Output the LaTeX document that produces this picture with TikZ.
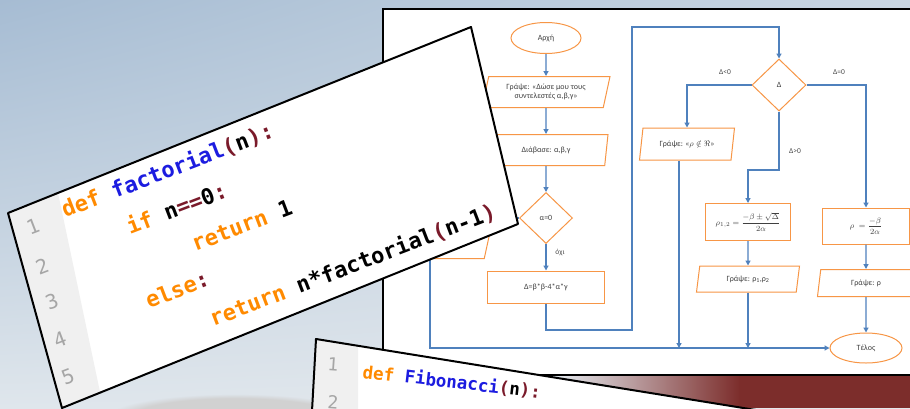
\documentclass[tikz,border=0pt]{standalone}
\usepackage{fontspec}
\setmainfont{Carlito}
\newfontfamily\codefont{DejaVu Sans Mono}
\usetikzlibrary{shapes.geometric,arrows.meta,fadings,shadings}
\definecolor{fcor}{HTML}{F79646}
\definecolor{fcbl}{HTML}{4F81BD}
\definecolor{kwc}{HTML}{FF8A00}
\definecolor{fnc}{HTML}{1C1CE0}
\definecolor{prc}{HTML}{7A1A2A}
\definecolor{lnc}{HTML}{A6A6A6}
\definecolor{lnbg}{HTML}{F0F0F0}
\definecolor{bgA}{HTML}{A6BCD3}
\definecolor{bgB}{HTML}{C9D6E2}
\definecolor{bgC}{HTML}{DFE6EC}
\definecolor{bgD}{HTML}{E2E7EC}
\definecolor{redc}{HTML}{7C2D2B}
\newcommand\ckw[1]{\textcolor{kwc}{#1}}
\newcommand\cfn[1]{\textcolor{fnc}{#1}}
\newcommand\cpr[1]{\textcolor{prc}{#1}}
\begin{document}
\begin{tikzpicture}[x=1pt,y=-1pt,
  fcnode/.style={draw=fcor, line width=1pt, font=\fontsize{8}{9.5}\selectfont, align=center, inner sep=1pt, text=black!75},
  term/.style={fcnode, ellipse},
  io/.style={fcnode, trapezium, trapezium left angle=70, trapezium right angle=110, trapezium stretches body},
  proc/.style={fcnode, rectangle},
  dec/.style={fcnode, diamond},
  flow/.style={draw=fcbl, line width=1.3pt},
  arr/.style={flow, -{Triangle[width=5pt,length=5pt]}},
  lbl/.style={font=\fontsize{7.5}{8}\selectfont, text=black!70, inner sep=0pt},
  code/.style={font=\codefont\fontsize{22}{22}\selectfont\bfseries, anchor=base west, inner sep=0pt, rotate=21},
  lnum/.style={font=\codefont\fontsize{20}{20}\selectfont, text=lnc, inner sep=0pt, rotate=21},
  fcode/.style={font=\codefont\fontsize{17.5}{18}\selectfont\bfseries, anchor=base west, inner sep=0pt, rotate=-6.5},
  flnum/.style={font=\codefont\fontsize{18}{18}\selectfont, text=lnc, inner sep=0pt, rotate=-4},
  panel/.style={line width=2pt, line join=round}
]
\useasboundingbox (0,0) rectangle (910,408);
% background
\shade[upper left=bgA, upper right=bgB, lower left=bgC, lower right=bgD] (0,0) rectangle (910,408);
\fill[black!18, path fading=circle with fuzzy edge 20 percent] (235,416) ellipse [x radius=125pt, y radius=22pt];
\shade[left color=bgD, right color=redc] (560,376) rectangle (740,408);
\fill[redc] (739,376) rectangle (912,408);
% frame
\draw[line width=2.5pt, fill=white] (383,9) rectangle (922,375);

% flowchart
\node[term, minimum width=70pt, minimum height=31pt] (start) at (546,38) {Αρχή};
\node[io, minimum width=128pt, minimum height=31pt] (p1) at (546,92) {Γράψε: «Δώσε μου τους\\συντελεστές α,β,γ»};
\node[io, minimum width=124pt, minimum height=31pt] (p2) at (546,150) {Διάβασε: α,β,γ};
\node[dec, minimum width=53pt, minimum height=51pt] (d1) at (546,218) {α=0};
\node[proc, minimum width=117pt, minimum height=32pt] (r1) at (546,287) {Δ=β*β-4*α*γ};
\node[io, minimum width=122pt, minimum height=31pt] (pno) at (430,243) {Γράψε: «Η εξίσωση δεν\\είναι 2ου βαθμού»};
\node[dec, minimum width=54pt, minimum height=52pt] (d2) at (779,85) {Δ};
\node[io, minimum width=95pt, minimum height=32pt] (p3) at (687,144) {Γράψε: «$\rho\notin\Re$»};
\node[proc, minimum width=85pt, minimum height=37pt] (r2) at (748,222) {$\displaystyle\rho_{1,2}=\frac{-\beta\pm\sqrt{\Delta}}{2\alpha}$};
\node[io, minimum width=103pt, minimum height=26pt] (p4) at (748,279) {Γράψε: ρ\textsubscript{1},ρ\textsubscript{2}};
\node[proc, minimum width=87pt, minimum height=36pt] (r3) at (866,226) {$\displaystyle\rho\;=\frac{-\beta}{2\alpha}$};
\node[io, minimum width=97pt, minimum height=27pt] (p5) at (866,283) {Γράψε: ρ};
\node[term, minimum width=72pt, minimum height=30pt] (end) at (866,348) {Τέλος};

\node[lbl] (lno) at (560,252) {όχι};
\node[lbl] (llt) at (725,72) {Δ<0};
\node[lbl] (leq) at (839,72) {Δ=0};
\node[lbl] (lgt) at (795,151) {Δ>0};

\coordinate (la) at (632,330);
\coordinate (lb) at (632,27);
\coordinate (k1) at (779,170);
\coordinate (bus) at (430,348);
\coordinate (p3o) at ([xshift=-8pt]p3.south);

\draw[arr] (start.south) -- (p1.north);
\draw[arr] (p1.south) -- (p2.north);
\draw[arr] (p2.south) -- (d1.north);
\draw[arr] (d1.south) -- (r1.north);
\draw[arr] (d1.west) -| (pno.north);
\draw[arr] (pno.south) |- (end.west);
\draw[arr] (r1.south) |- (la) -- (lb) -| (d2.north);
\draw[arr] (d2.west) -| (p3.north);
\draw[arr] (p3o) -- (p3o |- bus);
\draw[arr] (d2.south) -- (d2.south |- k1) -| (r2.north);
\draw[arr] (r2.south) -- (p4.north);
\draw[arr] (p4.south) -- (p4.south |- bus);
\draw[arr] (d2.east) -| (r3.north);
\draw[arr] (r3.south) -- (p5.north);
\draw[arr] (p5.south) -- (end.north);

% factorial panel
\fill[white] (8,213) -- (471,27) -- (518,224) -- (62,408) -- cycle;
\fill[lnbg] (8,213) -- (58,193) -- (100,392) -- (62,408) -- cycle;
\draw[panel] (8,213) -- (471,27) -- (518,224) -- (62,408) -- cycle;
\node[lnum] (n1) at (33,227) {1};
\node[lnum] (n2) at (42,266) {2};
\node[lnum] (n3) at (52,302) {3};
\node[lnum] (n4) at (60,340) {4};
\node[lnum] (n5) at (68,377) {5};
\node[code] (c1) at (65,218) {\ckw{def} \cfn{factorial}\cpr{(}n\cpr{):}};
\node[code] (c2) at (130,235) {\ckw{if} n\cpr{==}0\cpr{:}};
\node[code] (c3) at (195,252) {\ckw{return} 1};
\node[code] (c4) at (149,309) {\ckw{else}\cpr{:}};
\node[code] (c5) at (213,327) {\ckw{return} n*factorial\cpr{(}n-1\cpr{)}};

% fibonacci panel
\fill[white] (316,339) -- (762,411) -- (312,411) -- cycle;
\fill[lnbg] (316,339) -- (358,345.8) -- (358,411) -- (312,411) -- cycle;
\draw[panel] (312,411) -- (316,339) -- (762,411);
\node[flnum] (f1) at (333,364) {1};
\node[flnum] (f2) at (333,402) {2};
\node[fcode] (fc1) at (362,378) {\ckw{def} \cfn{Fibonacci}\cpr{(}n\cpr{):}};
\end{tikzpicture}
\end{document}
